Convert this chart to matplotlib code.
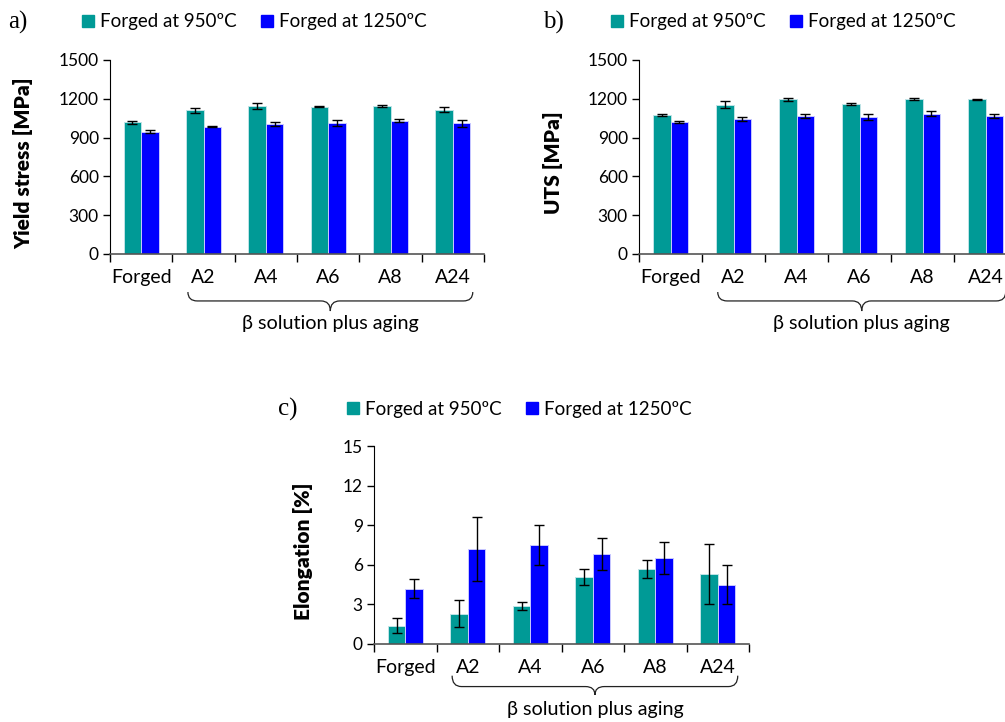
import numpy as np
import matplotlib.pyplot as plt
from matplotlib.path import Path
from matplotlib.patches import PathPatch, Patch
from matplotlib.transforms import blended_transform_factory

plt.rcParams["font.family"] = ["Lato", "DejaVu Sans"]

categories = ["Forged", "A2", "A4", "A6", "A8", "A24"]
labels = ["Forged at 950ºC", "Forged at 1250ºC"]

# a) yield stress [MPa]
ys_950 = [1020, 1110, 1145, 1140, 1145, 1115]
ys_950_err = [12, 18, 20, 3, 8, 18]
ys_1250 = [945, 985, 1005, 1013, 1030, 1010]
ys_1250_err = [12, 5, 12, 25, 12, 25]

# b) UTS [MPa]
uts_950 = [1075, 1155, 1195, 1160, 1200, 1195]
uts_950_err = [8, 25, 15, 5, 10, 3]
uts_1250 = [1020, 1045, 1065, 1060, 1085, 1065]
uts_1250_err = [5, 15, 15, 25, 20, 15]

# c) elongation [%]
el_950 = [1.4, 2.3, 2.9, 5.1, 5.7, 5.3]
el_950_err = [0.6, 1.0, 0.3, 0.6, 0.7, 2.3]
el_1250 = [4.2, 7.2, 7.5, 6.8, 6.5, 4.5]
el_1250_err = [0.7, 2.4, 1.5, 1.2, 1.2, 1.5]

teal = "#009a96"
blue = "#0000ff"


def draw_panel(ax, v1, e1, v2, e2, ylabel, yticks, ylab_x, brace_y, text_y):
    x = np.arange(len(categories))
    w = 0.28
    ekw = dict(ecolor="black", elinewidth=1, capsize=3.8, capthick=1)
    ax.bar(x - w / 2, v1, w, yerr=e1, color=teal, edgecolor="#bfe3e6",
           linewidth=0.7, error_kw=ekw)
    ax.bar(x + w / 2, v2, w, yerr=e2, color=blue, edgecolor="#c8c8ff",
           linewidth=0.7, error_kw=ekw)
    ax.set_xlim(-0.5, len(categories) - 0.5)
    ax.set_ylim(yticks[0], yticks[-1])
    ax.set_yticks(yticks)
    ax.tick_params(axis="y", labelsize=12.5, length=5, width=1, pad=3)
    ax.set_xticks(x)
    ax.set_xticklabels(categories, fontsize=14)
    ax.tick_params(axis="x", which="major", length=0, pad=11)
    ax.set_xticks(np.arange(len(categories) + 1) - 0.5, minor=True)
    ax.tick_params(axis="x", which="minor", length=6, width=1)
    for s in ["top", "right"]:
        ax.spines[s].set_visible(False)
    ax.spines["left"].set_color("black")
    ax.spines["bottom"].set_color("#555555")
    ax.spines["bottom"].set_linewidth(1.2)
    ax.set_ylabel(ylabel, fontsize=15, fontweight="heavy")
    ax.yaxis.set_label_coords(ylab_x, 0.47)

    # curly brace under the aged conditions
    xl, xr = 0.75, 5.32
    xm = (xl + xr) / 2
    y0, y1, y2 = brace_y
    dx = 0.15
    verts = [(xl, y0), (xl, y1), (xl + dx, y1), (xm - dx, y1), (xm, y1),
             (xm, y2), (xm, y1), (xm + dx, y1), (xr - dx, y1), (xr, y1),
             (xr, y0)]
    codes = [Path.MOVETO, Path.CURVE3, Path.CURVE3, Path.LINETO,
             Path.CURVE3, Path.CURVE3, Path.CURVE3, Path.CURVE3,
             Path.LINETO, Path.CURVE3, Path.CURVE3]
    tr = blended_transform_factory(ax.transData, ax.transAxes)
    ax.add_patch(PathPatch(Path(verts, codes), fill=False, lw=0.9,
                           edgecolor="#222222", transform=tr, clip_on=False))
    ax.text(xm, text_y, "β solution plus aging", transform=tr, ha="center",
            va="center", fontsize=14.2)


def add_legend(fig, x, y, tag, tag_x):
    handles = [Patch(color=teal, label=labels[0]),
               Patch(color=blue, label=labels[1])]
    fig.legend(handles=handles, loc="center left",
               bbox_to_anchor=(x / 1005, 1 - y / 722), ncol=2, frameon=False,
               fontsize=13.5, handlelength=0.65, handleheight=0.65,
               handletextpad=0.3, columnspacing=1.3, borderpad=0,
               borderaxespad=0)
    fig.text(tag_x / 1005, 1 - y / 722, tag, family="Liberation Serif",
             fontsize=18, va="center", ha="left")


fig = plt.figure(figsize=(10.05, 7.22), dpi=100)

ax_a = fig.add_axes([110 / 1005, 1 - 254 / 722, 374 / 1005, 194 / 722])
draw_panel(ax_a, ys_950, ys_950_err, ys_1250, ys_1250_err,
           "Yield stress [MPa]", [0, 300, 600, 900, 1200, 1500], -0.206,
           (-0.196, -0.242, -0.294), -0.356)
add_legend(fig, 82, 22, "a)", 8)

ax_b = fig.add_axes([639 / 1005, 1 - 254 / 722, 378 / 1005, 194 / 722])
draw_panel(ax_b, uts_950, uts_950_err, uts_1250, uts_1250_err,
           "UTS [MPa]", [0, 300, 600, 900, 1200, 1500], -0.201,
           (-0.196, -0.242, -0.294), -0.356)
add_legend(fig, 611, 22, "b)", 543)

ax_c = fig.add_axes([374 / 1005, 1 - 644 / 722, 375 / 1005, 198 / 722])
draw_panel(ax_c, el_950, el_950_err, el_1250, el_1250_err,
           "Elongation [%]", [0, 3, 6, 9, 12, 15], -0.163,
           (-0.16, -0.215, -0.257), -0.33)
add_legend(fig, 347, 409, "c)", 278)

fig.savefig("out.png", dpi=100)
